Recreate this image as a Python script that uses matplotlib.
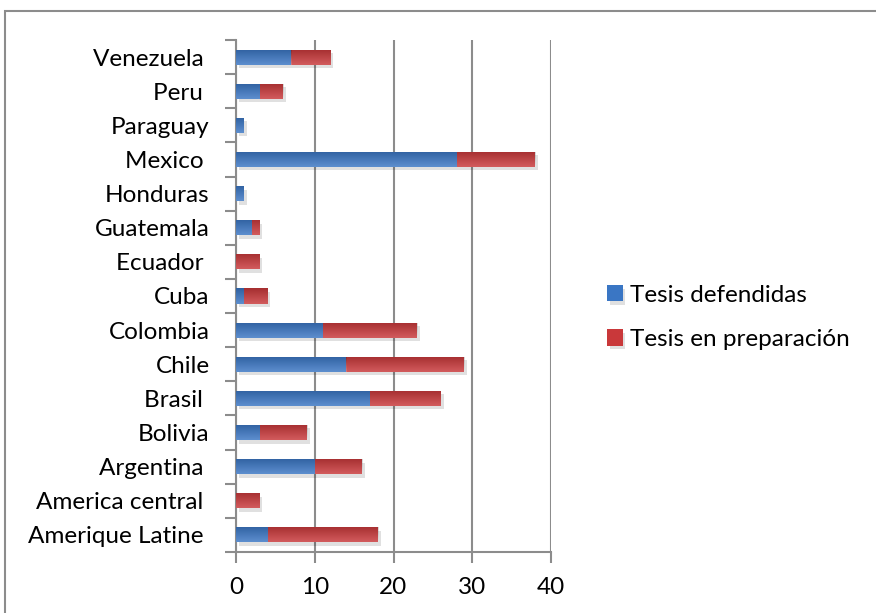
import matplotlib
matplotlib.use("Agg")
import matplotlib.pyplot as plt
import matplotlib.patheffects as pe
from matplotlib.patches import Rectangle
import numpy as np

countries = ["Amerique Latine ", "America central ", "Argentina ", "Bolivia", "Brasil ",
             "Chile", "Colombia", "Cuba", "Ecuador ", "Guatemala", "Honduras",
             "Mexico ", "Paraguay", "Peru ", "Venezuela "]
defendidas = [4, 0, 10, 3, 17, 14, 11, 1, 0, 2, 1, 28, 1, 3, 7]
preparacion = [14, 3, 6, 6, 9, 15, 12, 3, 3, 1, 0, 10, 0, 3, 5]
xticks = [0, 10, 20, 30, 40]

plt.rcParams['font.family'] = ['Lato', 'DejaVu Sans']

W, H = 876, 613
fig = plt.figure(figsize=(W / 100, H / 100), dpi=100)
ax = fig.add_axes([236 / W, 1 - 552 / H, (551 - 236) / W, (552 - 40) / H])

grey = "#8c8c8c"
blue = "#3a76c4"
red = "#c9383a"
FS = 17.5

y = np.arange(len(countries))
bar_h = 0.44
shadow = [pe.SimplePatchShadow(offset=(2, -2.5), shadow_rgbFace="#000000", alpha=0.12), pe.Normal()]
b1 = ax.barh(y, defendidas, height=bar_h, color=blue, label="Tesis defendidas", zorder=3)
b2 = ax.barh(y, preparacion, left=defendidas, height=bar_h, color=red,
             label="Tesis en preparación", zorder=3)

# subtle vertical shading on each bar segment
shade = np.linspace(0, 1, 32).reshape(-1, 1)
for bars in (b1, b2):
    for bar in bars:
        if bar.get_width() <= 0:
            continue
        bar.set_path_effects(shadow)
        x0, y0 = bar.get_x(), bar.get_y()
        im = ax.imshow(shade, extent=[x0, x0 + bar.get_width(), y0, y0 + bar_h],
                       cmap="gray", vmin=0, vmax=1, alpha=0.18, aspect="auto",
                       origin="upper", zorder=3.5, interpolation="bilinear")
        im.set_clip_path(bar)

ax.set_aspect("auto")
ax.set_xlim(0, 40)
ax.set_ylim(-0.5, len(countries) - 0.5)
ax.set_xticks(xticks)
ax.set_xticklabels([str(t) for t in xticks], fontsize=FS)
ax.set_yticks(y)
ax.set_yticklabels(countries, fontsize=FS)
ax.set_yticks(np.arange(-0.5, len(countries), 1), minor=True)
ax.tick_params(axis="y", which="major", length=0, pad=19)
ax.tick_params(axis="y", which="minor", length=8, width=1.5, color=grey)
ax.tick_params(axis="x", which="major", length=8, width=1.5, color=grey, pad=10)

ax.grid(axis="x", color=grey, linewidth=1.5, zorder=0)
for side in ["top", "right"]:
    ax.spines[side].set_visible(False)
for side in ["left", "bottom"]:
    ax.spines[side].set_color(grey)
    ax.spines[side].set_linewidth(1.5)

leg = fig.legend(handles=[b1, b2], loc="upper left", bbox_to_anchor=(585 / W, 1 - 263 / H),
                 frameon=False, fontsize=FS, handlelength=0.65, handleheight=0.65,
                 handletextpad=0.3, labelspacing=0.95)

fig.patches.append(Rectangle((5 / W, -0.1), 1.2, 1 - 11 / H + 0.1, transform=fig.transFigure,
                             fill=False, edgecolor=grey, linewidth=1.5))

fig.savefig("out.png", dpi=100, facecolor="white")
